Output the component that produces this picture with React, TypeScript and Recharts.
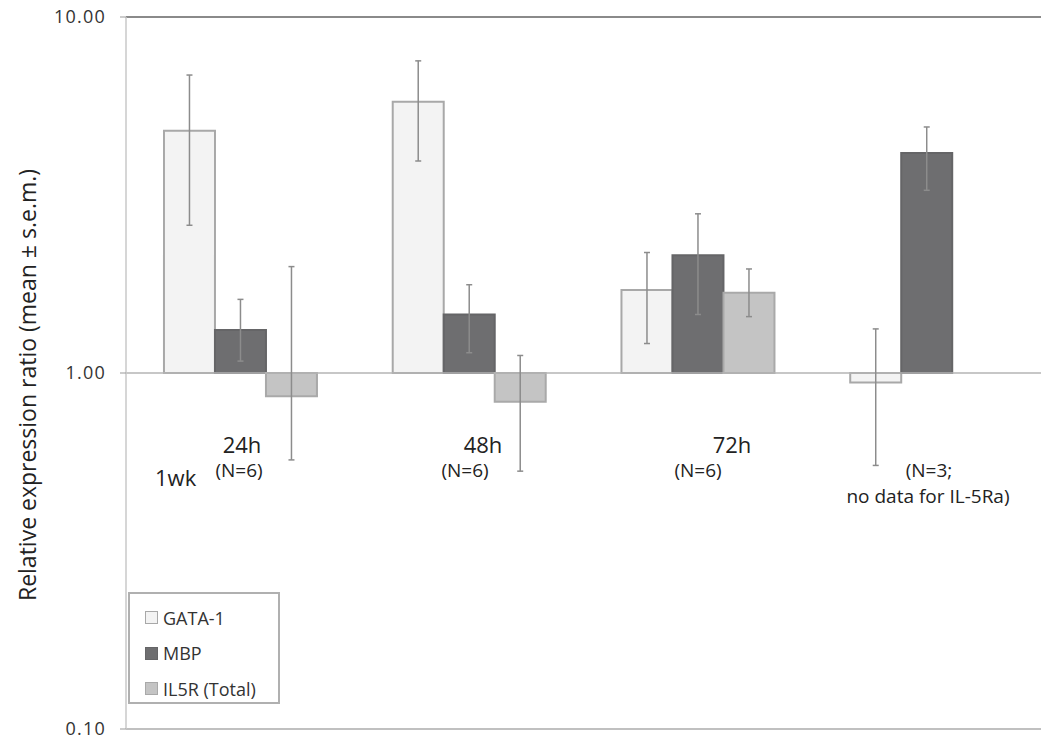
import { BarChart, Bar, XAxis, YAxis, ErrorBar, ReferenceLine, Legend, Customized } from "recharts"

const FONT = "'Open Sans', 'DejaVu Sans', sans-serif"

// categories (left to right)
const categories = ["24h", "48h", "72h", "1wk"]

// GATA-1
const gataMean = [4.79, 5.78, 1.71, 0.94]
const gataLow = [2.6, 3.94, 1.21, 0.55]
const gataHigh = [6.87, 7.53, 2.18, 1.33]

// MBP
const mbpMean = [1.32, 1.46, 2.14, 4.15]
const mbpLow = [1.08, 1.14, 1.46, 3.26]
const mbpHigh = [1.61, 1.77, 2.8, 4.91]

// IL5R (Total) - no data for the last group
const il5rMean = [0.86, 0.83, 1.68, null]
const il5rLow = [0.57, 0.53, 1.44, null]
const il5rHigh = [1.99, 1.12, 1.96, null]

const yTicks = [0.1, 1, 10]

const series = [
  { key: "gata", name: "GATA-1", fill: "#f3f3f3", stroke: "#a8a8a8" },
  { key: "mbp", name: "MBP", fill: "#6e6e70", stroke: "#656567" },
  { key: "il5r", name: "IL5R (Total)", fill: "#c4c4c4", stroke: "#a9a9a9" },
]

const bar = (m: number | null) => (m == null ? null : [1, m])
const err = (m: number | null, lo: number | null, hi: number | null) =>
  m == null || lo == null || hi == null ? null : [m - lo, hi - m]

const data = categories.map((c, i) => ({
  category: c,
  gata: bar(gataMean[i]),
  gataErr: err(gataMean[i], gataLow[i], gataHigh[i]),
  mbp: bar(mbpMean[i]),
  mbpErr: err(mbpMean[i], mbpLow[i], mbpHigh[i]),
  il5r: bar(il5rMean[i]),
  il5rErr: err(il5rMean[i], il5rLow[i], il5rHigh[i]),
}))

// annotation text under the bars
const notes = [
  { text: "24h", x: 242, y: 453, size: 22, anchor: "middle" },
  { text: "(N=6)", x: 239, y: 477, size: 19, anchor: "middle" },
  { text: "1wk", x: 155, y: 486, size: 22, anchor: "start" },
  { text: "48h", x: 483, y: 453, size: 22, anchor: "middle" },
  { text: "(N=6)", x: 465, y: 477, size: 19, anchor: "middle" },
  { text: "72h", x: 732, y: 453, size: 22, anchor: "middle" },
  { text: "(N=6)", x: 698, y: 477, size: 19, anchor: "middle" },
  { text: "(N=3;", x: 929, y: 477, size: 19, anchor: "middle" },
  { text: "no data for IL-5Ra)", x: 928, y: 503, size: 19, anchor: "middle" },
]

function Notes() {
  return (
    <g fontFamily={FONT} fill="#222">
      {notes.map((n, i) => (
        <text key={i} x={n.x} y={n.y} fontSize={n.size} textAnchor={n.anchor as any}>
          {n.text}
        </text>
      ))}
      <text
        x={27}
        y={385}
        transform="rotate(-90, 27, 385)"
        textAnchor="middle"
        dominantBaseline="central"
        fontSize={23}
        fill="#222"
      >
        Relative expression ratio (mean ± s.e.m.)
      </text>
    </g>
  )
}

function LegendBox() {
  return (
    <div
      style={{
        width: 152,
        height: 112,
        boxSizing: "border-box",
        border: "2px solid #b0b0b0",
        background: "#fff",
        fontFamily: FONT,
        fontSize: 18,
        color: "#333",
        paddingTop: 6,
      }}
    >
      {series.map((s) => (
        <div key={s.key} style={{ display: "flex", alignItems: "center", height: 35.5, paddingLeft: 15 }}>
          <span
            style={{
              display: "inline-block",
              width: 13,
              height: 13,
              boxSizing: "border-box",
              background: s.fill,
              border: `1.5px solid ${s.stroke}`,
              marginRight: 5,
            }}
          />
          <span>{s.name}</span>
        </div>
      ))}
    </div>
  )
}

export default function App() {
  return (
    <div>
      <style>{"body { margin: 0; }"}</style>
      <BarChart
        width={1050}
        height={745}
        data={data}
        margin={{ top: 17, right: 9, bottom: 16, left: 8 }}
        barCategoryGap="16.6%"
        barGap={0}
      >
        <XAxis dataKey="category" hide />
        <YAxis
          scale="log"
          domain={[0.1, 10]}
          ticks={yTicks}
          allowDataOverflow
          tickFormatter={(v: number) => v.toFixed(2)}
          width={118}
          axisLine={{ stroke: "#c8c8c8", strokeWidth: 1.5 }}
          tickLine={{ stroke: "#999" }}
          tickSize={6}
          tickMargin={14}
          tick={{ fontSize: 18, fill: "#333", fontFamily: FONT, letterSpacing: 1.2 }}
        />
        <YAxis
          yAxisId="right"
          orientation="right"
          width={0}
          tick={false}
          tickLine={false}
          axisLine={{ stroke: "#c8c8c8", strokeWidth: 1.5 }}
        />
        <ReferenceLine y={0.1} stroke="#c0c0c0" strokeWidth={2} />
        <ReferenceLine y={1} stroke="#b5b5b5" strokeWidth={1.5} />
        <ReferenceLine y={10} stroke="#8a8a8a" strokeWidth={2} />
        {series.map((s) => (
          <Bar
            key={s.key}
            dataKey={s.key}
            name={s.name}
            fill={s.fill}
            stroke={s.stroke}
            strokeWidth={2}
            isAnimationActive={false}
          >
            <ErrorBar dataKey={`${s.key}Err`} width={3} stroke="#8c8c8c" strokeWidth={1.5} direction="y" />
          </Bar>
        ))}
        <Legend
          layout="vertical"
          align="center"
          verticalAlign="middle"
          content={() => <LegendBox />}
          wrapperStyle={{ left: 128, top: 592, width: 152, height: 112 }}
        />
        <Customized component={Notes} />
      </BarChart>
    </div>
  )
}
